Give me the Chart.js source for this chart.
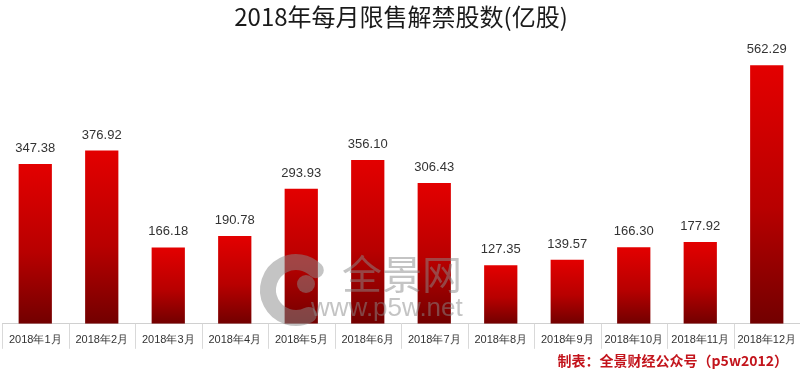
<!DOCTYPE html>
<html>
<head>
<meta charset="utf-8">
<script src="https://cdn.jsdelivr.net/npm/chart.js@4/dist/chart.umd.min.js"></script>
<style>
  html, body { margin: 0; padding: 0; background: #fff; }
  #wrap { width: 800px; height: 372px; position: relative; }
</style>
</head>
<body>
<div id="wrap"><canvas id="barchart"></canvas></div>
<script>
const months = ["2018年1月", "2018年2月", "2018年3月", "2018年4月", "2018年5月", "2018年6月",
    "2018年7月", "2018年8月", "2018年9月", "2018年10月", "2018年11月", "2018年12月"]
const shares = [347.38, 376.92, 166.18, 190.78, 293.93, 356.10, 306.43, 127.35, 139.57, 166.30, 177.92, 562.29]
const titleText = "2018年每月限售解禁股数(亿股)"
const footText = "制表：全景财经公众号（p5w2012）"

// red to dark red, per bar
function barGradient(ctx) {
    const chart = ctx.chart
    const area = chart.chartArea
    if (!area || ctx.dataIndex === undefined) return "#c00000"
    const y = chart.scales.y
    const top = y.getPixelForValue(ctx.raw)
    const base = y.getPixelForValue(0)
    const g = chart.ctx.createLinearGradient(0, top, 0, base)
    g.addColorStop(0, "#e30000")
    g.addColorStop(0.55, "#b80000")
    g.addColorStop(1, "#720000")
    return g
}

const valueLabels = {
    id: "valueLabels",
    afterDatasetsDraw(chart) {
        const c = chart.ctx
        const meta = chart.getDatasetMeta(0)
        c.save()
        c.font = "13px 'Liberation Sans', Arial, sans-serif"
        c.fillStyle = "#333"
        c.textAlign = "center"
        c.textBaseline = "bottom"
        meta.data.forEach((bar, i) => {
            c.fillText(shares[i].toFixed(2), bar.x, bar.y - 9)
        })
        c.restore()
    }
}

// the little box lines between the month labels
const separators = {
    id: "separators",
    afterDraw(chart) {
        const c = chart.ctx
        const x = chart.scales.x
        const half = (x.getPixelForValue(1) - x.getPixelForValue(0)) / 2
        const top = chart.chartArea.bottom
        c.save()
        c.strokeStyle = "#d9d9d9"
        c.lineWidth = 1
        c.beginPath()
        for (let i = 0; i <= months.length; i++) {
            const px = Math.round(x.getPixelForValue(i) - half) + 0.5
            c.moveTo(px, top)
            c.lineTo(px, top + 25)
        }
        c.stroke()
        c.restore()
    }
}

const watermark = {
    id: "watermark",
    afterDatasetsDraw(chart) {
        const c = chart.ctx
        c.save()
        c.globalAlpha = 0.5
        c.strokeStyle = "#8a8a8a"
        c.fillStyle = "#8a8a8a"
        c.lineWidth = 16
        c.lineCap = "round"
        c.beginPath()
        c.arc(296, 290, 28, Math.PI * 0.35, Math.PI * 1.75)
        c.stroke()
        c.beginPath()
        c.arc(306, 284, 9, 0, Math.PI * 2)
        c.fill()
        c.font = "40px 'Noto Sans CJK SC', sans-serif"
        c.textBaseline = "middle"
        c.fillText("全景网", 342, 274)
        c.font = "26px 'Liberation Sans', Arial, sans-serif"
        c.fillText("www.p5w.net", 311, 309)
        c.restore()
    }
}

const footnote = {
    id: "footnote",
    afterDraw(chart) {
        const c = chart.ctx
        c.save()
        c.font = "bold 14px 'Noto Sans CJK SC', sans-serif"
        c.fillStyle = "#c3141c"
        c.textAlign = "right"
        c.textBaseline = "middle"
        c.fillText(footText, 788, 361)
        c.restore()
    }
}

new Chart(document.getElementById("barchart").getContext("2d"), {
    type: "bar",
    data: {
        labels: months,
        datasets: [{
            data: shares,
            backgroundColor: barGradient,
            barPercentage: 0.5,
            categoryPercentage: 1
        }]
    },
    options: {
        responsive: true,
        maintainAspectRatio: false,
        animation: false,
        layout: { padding: { left: 2, right: 0, top: 0, bottom: 23 } },
        plugins: {
            legend: { display: false },
            tooltip: { enabled: false },
            title: {
                display: true,
                text: titleText,
                color: "#1a1a1a",
                font: { family: "'Noto Sans CJK SC', sans-serif", size: 24, weight: "normal" },
                padding: { top: 2, bottom: 8 }
            }
        },
        scales: {
            x: {
                grid: { display: false },
                border: { display: true, color: "#d0d0d0" },
                ticks: {
                    padding: 2,
                    color: "#333",
                    maxRotation: 0,
                    autoSkip: false,
                    font: { family: "'Liberation Sans', Arial, sans-serif", size: 11 }
                }
            },
            y: {
                display: false,
                min: 0,
                max: 620
            }
        }
    },
    plugins: [valueLabels, separators, watermark, footnote]
})
</script>
</body>
</html>
